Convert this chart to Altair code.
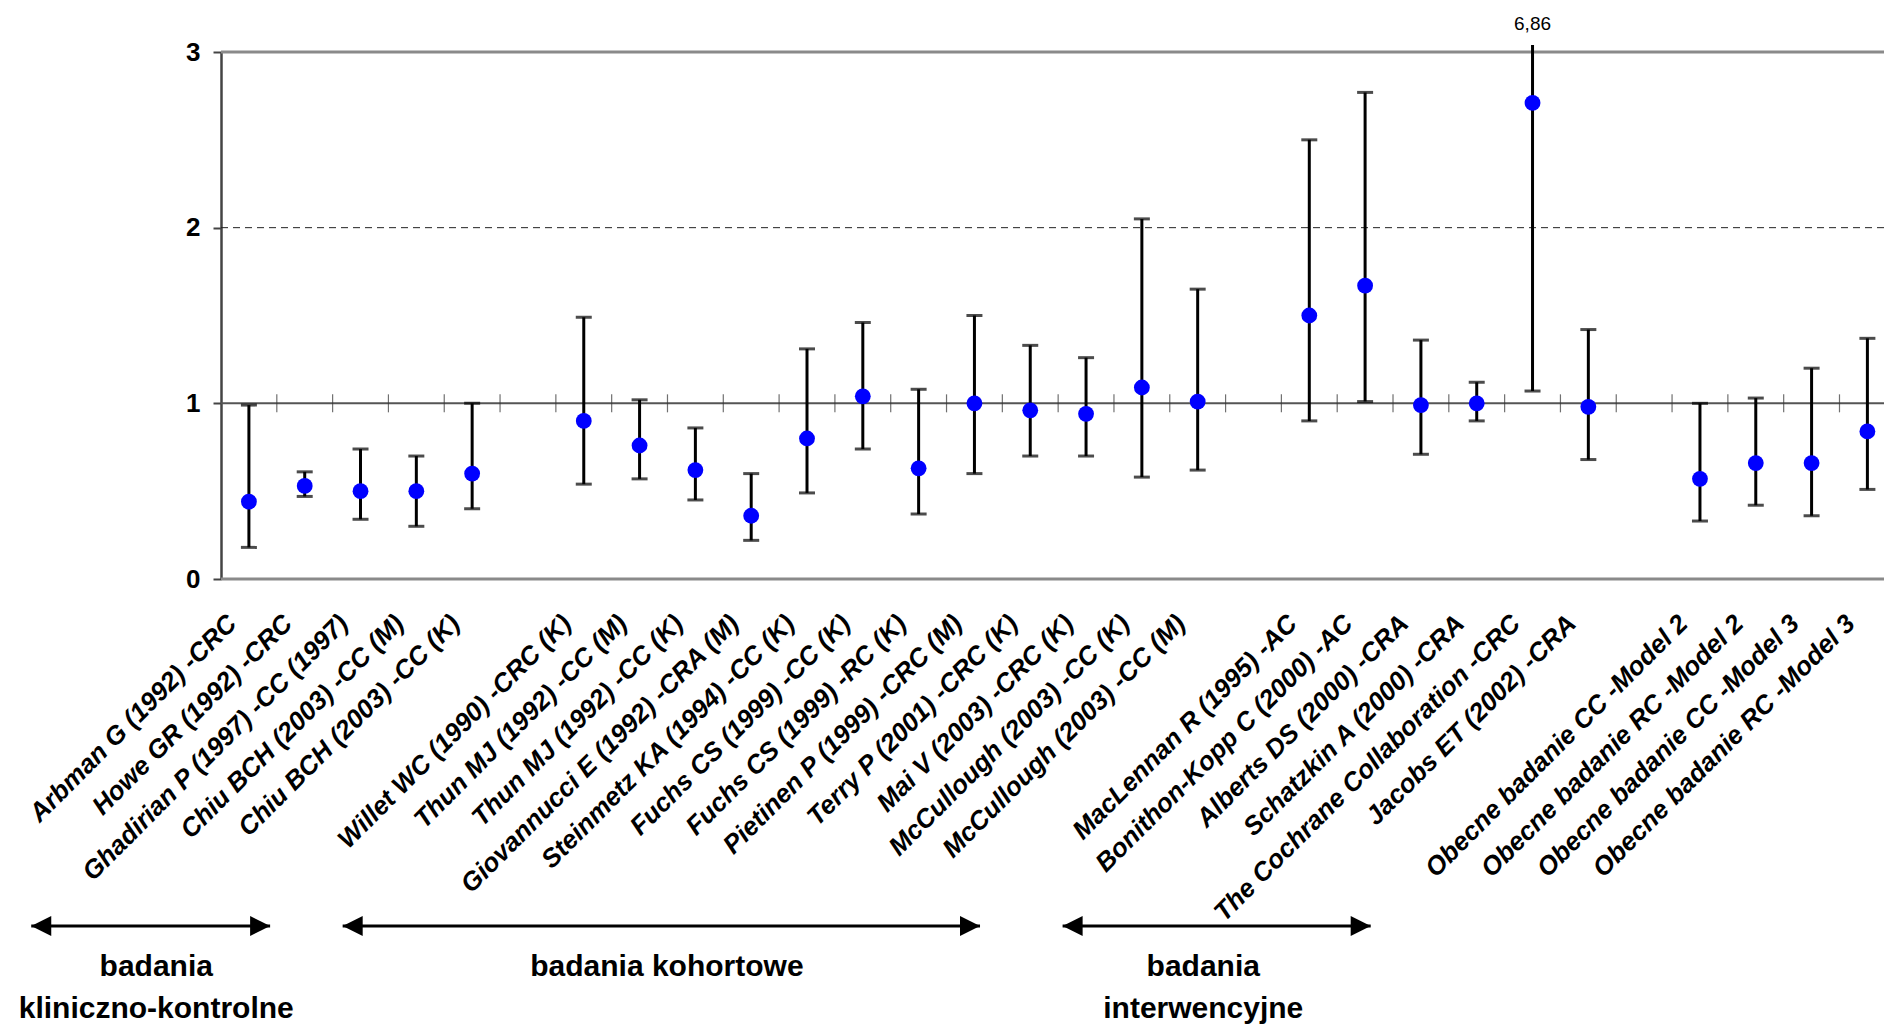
import altair as alt
import pandas as pd

# ---------------- data ----------------
study_labels = [
    "Arbman G (1992) -CRC",
    "Howe GR (1992) -CRC",
    "Ghadirian P (1997) -CC (1997)",
    "Chiu BCH (2003) -CC (M)",
    "Chiu BCH (2003) -CC (K)",
    "",
    "Willet WC (1990) -CRC (K)",
    "Thun MJ (1992) -CC (M)",
    "Thun MJ (1992) -CC (K)",
    "Giovannucci E (1992) -CRA (M)",
    "Steinmetz KA (1994) -CC (K)",
    "Fuchs CS (1999) -CC (K)",
    "Fuchs CS (1999) -RC (K)",
    "Pietinen P (1999) -CRC (M)",
    "Terry P (2001) -CRC (K)",
    "Mai V (2003) -CRC (K)",
    "McCullough (2003) -CC (K)",
    "McCullough (2003) -CC (M)",
    "",
    "MacLennan R (1995) -AC",
    "Bonithon-Kopp C (2000) -AC",
    "Alberts DS (2000) -CRA",
    "Schatzkin A (2000) -CRA",
    "The Cochrane Collaboration -CRC",
    "Jacobs ET (2002) -CRA",
    "",
    "Obecne badanie CC -Model 2",
    "Obecne badanie RC -Model 2",
    "Obecne badanie CC -Model 3",
    "Obecne badanie RC -Model 3",
]

odds_ratio = [0.44, 0.53, 0.50, 0.50, 0.60, None,
              0.90, 0.76, 0.62, 0.36, 0.80, 1.04, 0.63, 1.00, 0.96, 0.94, 1.09, 1.01, None,
              1.50, 1.67, 0.99, 1.00, 2.71, 0.98, None,
              0.57, 0.66, 0.66, 0.84]
ci_low = [0.18, 0.47, 0.34, 0.30, 0.40, None,
          0.54, 0.57, 0.45, 0.22, 0.49, 0.74, 0.37, 0.60, 0.70, 0.70, 0.58, 0.62, None,
          0.90, 1.01, 0.71, 0.90, 1.07, 0.68, None,
          0.33, 0.42, 0.36, 0.51]
ci_high = [0.99, 0.61, 0.74, 0.70, 1.00, None,
           1.49, 1.02, 0.86, 0.60, 1.31, 1.46, 1.08, 1.50, 1.33, 1.26, 2.05, 1.65, None,
           2.50, 2.77, 1.36, 1.12, 6.86, 1.42, None,
           1.00, 1.03, 1.20, 1.37]

y_ticks = [0, 1, 2, 3]

group_texts = ["badania\nkliniczno-kontrolne", "badania kohortowe", "badania\ninterwencyjne"]
# annotation layout (in slot units of the x scale)
group_arrow_from = [-2.90, 2.68, 15.58]
group_arrow_to = [1.38, 14.10, 21.10]
group_text_at = [-0.66, 8.49, 18.10]

# ---------------- tables ----------------
slots = list(range(1, len(study_labels) + 1))
df = pd.DataFrame({"idx": slots, "label": study_labels, "or": odds_ratio,
                   "low": ci_low, "high": ci_high}).dropna()
label_idx = [int(i) for i, l in zip(slots, study_labels) if l]
boundaries = pd.DataFrame({"b": [i + 0.5 for i in slots], "one": 1})
groups = pd.DataFrame({"text": group_texts, "a": group_arrow_from,
                       "b": group_arrow_to, "c": group_text_at})

# ---------------- layout ----------------
W, H = 1663, 527
PAD_L, PAD_T = 221, 52
SLOT_PX = 55.81
FONT = "Arial, Liberation Sans, sans-serif"

x_scale = alt.Scale(domain=[0.5, 0.5 + W / SLOT_PX], nice=False, zero=False)
y_scale = alt.Scale(domain=[0, 3], nice=False, zero=False)

lab_arr = "[" + ",".join("'" + l + "'" for l in study_labels) + "]"
x_axis = alt.Axis(values=label_idx, labelExpr=lab_arr + "[datum.value - 1]",
                  labelAngle=-45, labelAlign="right", labelBaseline="middle",
                  labelFont=FONT, labelFontSize=26, labelFontStyle="italic",
                  labelFontWeight="bold", labelColor="black", labelPadding=40,
                  labelOffset=-17, labelOverlap=False, labelFlush=False,
                  labelLimit=2000, labelBound=False, ticks=False, domain=False,
                  grid=False, title=None)
y_axis = alt.Axis(values=y_ticks, format="d", labelFont=FONT, labelFontSize=26,
                  labelFontWeight="bold", labelColor="black", labelPadding=13,
                  tickSize=8, tickColor="#444", tickWidth=2, domainColor="#444",
                  domainWidth=2.5, grid=False, title=None)


def X(f):
    return alt.X(f, type="quantitative", scale=x_scale, axis=x_axis, title=None)


def Y(f):
    return alt.Y(f, type="quantitative", scale=y_scale, axis=y_axis, title=None)


base = alt.Chart(df)

line_outer = alt.Chart(pd.DataFrame({"y": [0, 3]})).mark_rule(
    color="#8a8a8a", strokeWidth=3).encode(y=Y("y"))
line_two = alt.Chart(pd.DataFrame({"y": [2]})).mark_rule(
    color="#222", strokeWidth=1, strokeDash=[7, 5]).encode(y=Y("y"))
line_one = alt.Chart(pd.DataFrame({"y": [1]})).mark_rule(
    color="#555", strokeWidth=2).encode(y=Y("y"))
slot_ticks = alt.Chart(boundaries).mark_tick(
    orient="vertical", size=18, thickness=1.2, color="#333").encode(x=X("b"), y=Y("one"))

clipped = base.transform_calculate(high_c="min(datum.high, 3.04)")
bars = clipped.mark_rule(color="black", strokeWidth=3).encode(
    x=X("idx"), y=Y("low"), y2="high_c")
cap_low = base.mark_tick(orient="horizontal", size=16, thickness=3, color="black").encode(
    x=X("idx"), y=Y("low"))
cap_high = base.transform_filter("datum.high <= 3").mark_tick(
    orient="horizontal", size=16, thickness=3, color="black").encode(x=X("idx"), y=Y("high"))
points = base.mark_circle(size=250, color="#0000FF", opacity=1).encode(
    x=X("idx"), y=Y("or"))
over_label = clipped.transform_filter("datum.high > 3").transform_calculate(
    txt="replace(format(datum.high, '.2f'), '.', ',')").mark_text(
    font=FONT, fontSize=19, color="black", baseline="alphabetic", dy=-15).encode(
    x=X("idx"), y=Y("high_c"), text="txt:N")

gbase = alt.Chart(groups)
arrow_y = 926 - PAD_T
shafts = gbase.mark_rule(color="black", strokeWidth=3).encode(
    x=X("a"), x2="b", y=alt.value(arrow_y))
head_l = gbase.mark_point(shape="M0,0L2,-1L2,1Z", size=400, filled=True, color="black",
                          opacity=1, strokeWidth=0).encode(x=X("a"), y=alt.value(arrow_y))
head_r = gbase.mark_point(shape="M0,0L-2,-1L-2,1Z", size=400, filled=True, color="black",
                          opacity=1, strokeWidth=0).encode(x=X("b"), y=alt.value(arrow_y))
gtext = gbase.mark_text(font=FONT, fontSize=30, fontWeight="bold", color="black",
                        align="center", baseline="alphabetic", lineBreak="\n",
                        lineHeight=42).encode(
    x=X("c"), y=alt.value(976 - PAD_T), text="text:N")

chart = alt.layer(
    line_outer, line_two, line_one, slot_ticks, bars, cap_low, cap_high, points,
    over_label, shafts, head_l, head_r, gtext
).properties(
    width=W, height=H,
    padding={"left": PAD_L, "top": PAD_T, "right": 0, "bottom": 1024 - PAD_T - H},
    autosize=alt.AutoSizeParams(type="none"),
).configure_view(stroke=None).configure(background="white")

chart.save("out.html", embed_options={"renderer": "svg", "actions": False})
